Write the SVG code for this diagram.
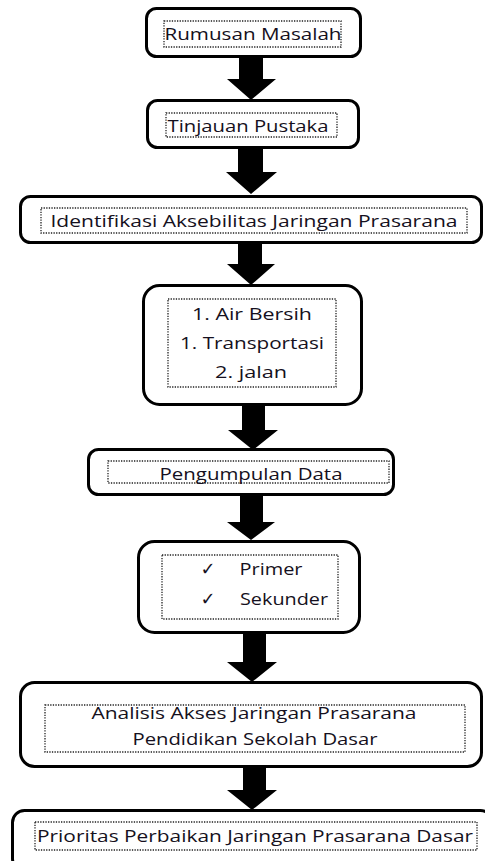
<svg xmlns="http://www.w3.org/2000/svg" width="485" height="861" viewBox="0 0 485 861">
<style>
.box{fill:#fff;stroke:#000;stroke-width:3}
.dot{fill:none;stroke:#222;stroke-width:1.3;stroke-dasharray:1.3 1.3}
.t{font-family:"Open Sans","Liberation Sans",sans-serif;font-size:17px;fill:#151020;text-anchor:middle}
.ck{font-family:"DejaVu Sans",sans-serif;font-size:18px;fill:#151020;text-anchor:middle}
.arr{fill:#000}
</style>
<rect width="485" height="861" fill="#fff"/>
<g id="connectors">
<polygon class="arr" points="239,57 263,57 263,79 276,79 251,100 227,79 239,79"/>
<polygon class="arr" points="238,148 263,148 263,172 277,172 251,194 226,172 238,172"/>
<polygon class="arr" points="238,243 262,243 262,264 275,264 251,285 227,264 238,264"/>
<polygon class="arr" points="242,405 265,405 265,430 278,430 253,450 228,430 242,430"/>
<polygon class="arr" points="240,495 263,495 263,522 275,522 251,540 227,522 240,522"/>
<polygon class="arr" points="243,633 266,633 266,662 277,662 252,682 227,662 243,662"/>
<polygon class="arr" points="243,767 266,767 266,790 277,790 252,810 227,790 243,790"/>
</g>
<g id="n1">
<rect class="box" x="146.5" y="8.5" width="214" height="48" rx="10"/>
<rect class="dot" x="164" y="21" width="177" height="26"/>
<text class="t" x="253" y="40" textLength="177" lengthAdjust="spacingAndGlyphs">Rumusan Masalah</text>
</g>
<g id="n2">
<rect class="box" x="147.5" y="100.5" width="211" height="47" rx="10"/>
<rect class="dot" x="166" y="113" width="171" height="24"/>
<text class="t" x="248" y="132" textLength="161" lengthAdjust="spacingAndGlyphs">Tinjauan Pustaka</text>
</g>
<g id="n3">
<rect class="box" x="20.5" y="196.5" width="461" height="46" rx="10"/>
<rect class="dot" x="41" y="208" width="426" height="25"/>
<text class="t" x="254" y="227" textLength="407" lengthAdjust="spacingAndGlyphs">Identifikasi Aksebilitas Jaringan Prasarana</text>
</g>
<g id="n4">
<rect class="box" x="143.5" y="285.5" width="218" height="119" rx="16"/>
<rect class="dot" x="168" y="299" width="168" height="88"/>
<text class="t" x="252" y="320" textLength="120" lengthAdjust="spacingAndGlyphs">1. Air Bersih</text>
<text class="t" x="252" y="349" textLength="144" lengthAdjust="spacingAndGlyphs">1. Transportasi</text>
<text class="t" x="251" y="378" textLength="72" lengthAdjust="spacingAndGlyphs">2. jalan</text>
</g>
<g id="n5">
<rect class="box" x="88.5" y="449.5" width="305" height="45" rx="10"/>
<rect class="dot" x="108" y="461" width="281" height="22"/>
<text class="t" x="251" y="480" textLength="183" lengthAdjust="spacingAndGlyphs">Pengumpulan Data</text>
</g>
<g id="n6">
<rect class="box" x="138.5" y="541.5" width="221" height="91" rx="16"/>
<rect class="dot" x="162" y="555" width="176" height="64"/>
<text class="ck" x="208" y="575">✓</text>
<text class="t" x="271" y="575" textLength="63" lengthAdjust="spacingAndGlyphs">Primer</text>
<text class="ck" x="208" y="605">✓</text>
<text class="t" x="284" y="605" textLength="88" lengthAdjust="spacingAndGlyphs">Sekunder</text>
</g>
<g id="n7">
<rect class="box" x="20.5" y="682.5" width="461" height="84" rx="14"/>
<rect class="dot" x="45" y="705" width="420" height="47"/>
<text class="t" x="254" y="719" textLength="325" lengthAdjust="spacingAndGlyphs">Analisis Akses Jaringan Prasarana</text>
<text class="t" x="255" y="745" textLength="245" lengthAdjust="spacingAndGlyphs">Pendidikan Sekolah Dasar</text>
</g>
<g id="n8">
<rect class="box" x="12.5" y="810.5" width="480" height="60" rx="12"/>
<rect class="dot" x="35" y="822" width="442" height="28"/>
<text class="t" x="255" y="842" textLength="436" lengthAdjust="spacingAndGlyphs">Prioritas Perbaikan Jaringan Prasarana Dasar</text>
</g>
</svg>
